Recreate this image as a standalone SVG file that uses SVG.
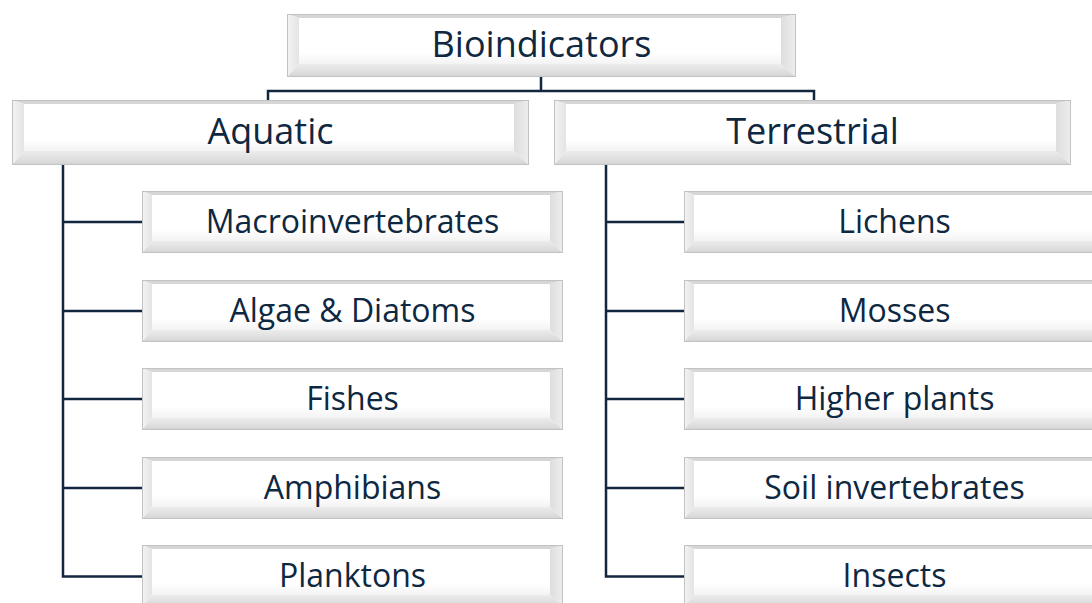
<svg xmlns="http://www.w3.org/2000/svg" xmlns:xlink="http://www.w3.org/1999/xlink" width="1092" height="603" viewBox="0 0 1092 603">
<style>
.lbl{font-family:"Open Sans","Liberation Sans",sans-serif;fill:#0e2841;text-anchor:middle}
.big{font-size:36px}
.small{font-size:32px}
.conn{fill:none;stroke:#13263f;stroke-width:2.5;stroke-linejoin:miter}
.bt{fill:#d6d6d6}
.bl{fill:url(#gl)}
.bb{fill:url(#gb)}
.br{fill:url(#gr)}
.face{fill:url(#gf)}
.edge{fill:none;stroke:#c2c2c2;stroke-width:1}
</style>
<defs>
<linearGradient id="gl" x1="0" y1="0" x2="1" y2="0"><stop offset="0" stop-color="#f3f3f3"/><stop offset="1" stop-color="#e4e4e4"/></linearGradient>
<linearGradient id="gb" x1="0" y1="0" x2="0" y2="1"><stop offset="0" stop-color="#ececec"/><stop offset="0.8" stop-color="#dadada"/><stop offset="1" stop-color="#cfcfcf"/></linearGradient>
<linearGradient id="gr" x1="0" y1="0" x2="1" y2="0"><stop offset="0" stop-color="#dedede"/><stop offset="1" stop-color="#ededed"/></linearGradient>
<linearGradient id="gf" x1="0" y1="0" x2="0" y2="1"><stop offset="0" stop-color="#ffffff"/><stop offset="0.75" stop-color="#ffffff"/><stop offset="1" stop-color="#f3f3f3"/></linearGradient>
<symbol id="child" overflow="visible">
<polygon class="bt" points="0,0 421,0 408,4 10,4"/>
<polygon class="bl" points="0,0 10,4 10,50 0,62"/>
<polygon class="bb" points="0,62 10,50 408,50 421,62"/>
<polygon class="br" points="421,0 421,62 408,50 408,4"/>
<rect class="face" x="10" y="4" width="398" height="46"/>
<rect class="edge" x="0.5" y="0.5" width="420" height="61"/>
</symbol>
<symbol id="head" overflow="visible">
<polygon class="bt" points="0,0 517,0 502,4 12,4"/>
<polygon class="bl" points="0,0 12,4 12,51 0,65"/>
<polygon class="bb" points="0,65 12,51 502,51 517,65"/>
<polygon class="br" points="517,0 517,65 502,51 502,4"/>
<rect class="face" x="12" y="4" width="490" height="47"/>
<rect class="edge" x="0.5" y="0.5" width="516" height="64"/>
</symbol>
<symbol id="rootbox" overflow="visible">
<polygon class="bt" points="0,0 509,0 494,4 12,4"/>
<polygon class="bl" points="0,0 12,4 12,50 0,63"/>
<polygon class="bb" points="0,63 12,50 494,50 509,63"/>
<polygon class="br" points="509,0 509,63 494,50 494,4"/>
<rect class="face" x="12" y="4" width="482" height="46"/>
<rect class="edge" x="0.5" y="0.5" width="508" height="62"/>
</symbol>
</defs>
<rect width="1092" height="603" fill="#ffffff"/>
<g id="connectors">
<path class="conn" d="M541,77 V91 M268,100 V91 H814 V100"/>
<path class="conn" d="M63,165 V576.5 H142 M63,222 H142 M63,311 H142 M63,399 H142 M63,488 H142"/>
<path class="conn" d="M606,165 V576.5 H684 M606,222 H684 M606,311 H684 M606,399 H684 M606,488 H684"/>
</g>
<g id="n-root"><use xlink:href="#rootbox" x="287" y="14"/><text class="lbl big" x="541.5" y="57">Bioindicators</text></g>
<g id="n-aquatic"><use xlink:href="#head" x="12" y="100"/><text class="lbl big" x="270.5" y="144">Aquatic</text></g>
<g id="n-terrestrial"><use xlink:href="#head" x="554" y="100"/><text class="lbl big" x="812.5" y="144">Terrestrial</text></g>
<g id="n-macro"><use xlink:href="#child" x="142" y="191"/><text class="lbl small" x="352.5" y="232.5">Macroinvertebrates</text></g>
<g id="n-algae"><use xlink:href="#child" x="142" y="280"/><text class="lbl small" x="352.5" y="321.5">Algae &amp; Diatoms</text></g>
<g id="n-fishes"><use xlink:href="#child" x="142" y="368"/><text class="lbl small" x="352.5" y="409.5">Fishes</text></g>
<g id="n-amphibians"><use xlink:href="#child" x="142" y="457"/><text class="lbl small" x="352.5" y="498.5">Amphibians</text></g>
<g id="n-planktons"><use xlink:href="#child" x="142" y="545"/><text class="lbl small" x="352.5" y="586.5">Planktons</text></g>
<g id="n-lichens"><use xlink:href="#child" x="684" y="191"/><text class="lbl small" x="894.5" y="232.5">Lichens</text></g>
<g id="n-mosses"><use xlink:href="#child" x="684" y="280"/><text class="lbl small" x="894.5" y="321.5">Mosses</text></g>
<g id="n-higher"><use xlink:href="#child" x="684" y="368"/><text class="lbl small" x="894.5" y="409.5">Higher plants</text></g>
<g id="n-soil"><use xlink:href="#child" x="684" y="457"/><text class="lbl small" x="894.5" y="498.5">Soil invertebrates</text></g>
<g id="n-insects"><use xlink:href="#child" x="684" y="545"/><text class="lbl small" x="894.5" y="586.5">Insects</text></g>
</svg>
